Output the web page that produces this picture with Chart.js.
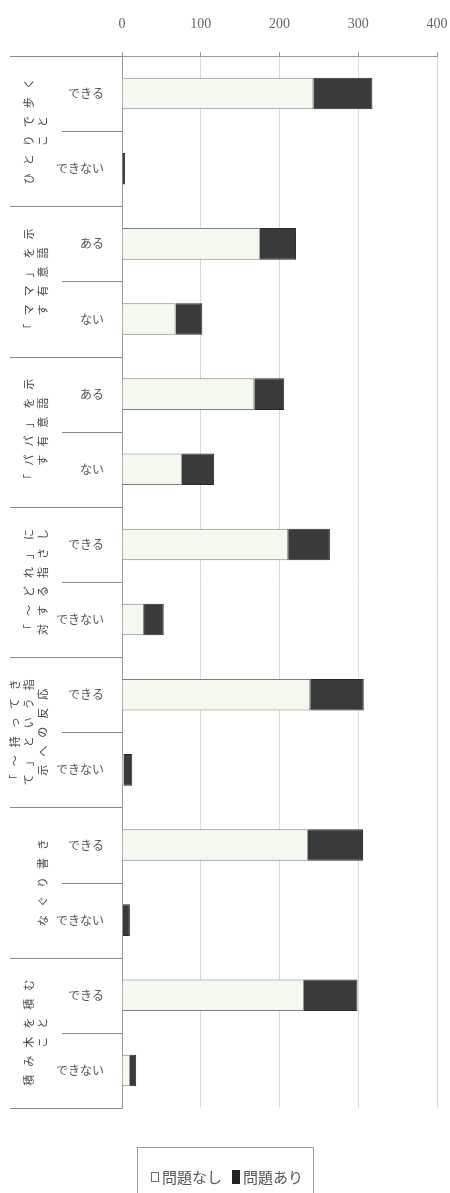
<!doctype html>
<html lang="ja">
  <head>
    <meta charset="utf-8">
    <title>発達項目と問題の有無</title>
    <script src="https://cdn.jsdelivr.net/npm/chart.js"></script>
    <style>
      body { margin: 0; background: #fff; }
      canvas { display: block; }
    </style>
  </head>
  <body>
    <canvas id="myChart" width="450" height="1193"></canvas>
    <script>
      // rows, top to bottom
      const categories = ['できる', 'できない', 'ある', 'ない', 'ある', 'ない', 'できる', 'できない',
                          'できる', 'できない', 'できる', 'できない', 'できる', 'できない'];
      // item names, one line per column of the vertical label
      const groups = [
        ['ひとりで歩く', 'こと'],
        ['「ママ」を示', 'す有意語'],
        ['「パパ」を示', 'す有意語'],
        ['「～どれ」に', '対する指さし'],
        ['「～持ってき', 'て」という指', '示への反応'],
        ['なぐり書き'],
        ['積み木を積む', 'こと']
      ];
      const groupRows = [2, 2, 2, 2, 2, 2, 2];
      const seriesNames = ['問題なし', '問題あり'];
      const noProblem = [243, 0, 175, 68, 168, 76, 211, 28, 239, 2, 236, 1, 231, 10];
      const problem = [75, 4, 46, 34, 38, 41, 53, 25, 68, 11, 70, 9, 68, 8];
      const xTicks = [0, 100, 200, 300, 400];

      const jpFont = '"Noto Sans CJK JP", sans-serif';
      const lightFill = '#f3f9ef';
      const darkFill = '#383b39';

      // separators, vertical item names and the boxed legend
      const sideLabels = {
        id: 'sideLabels',
        afterDraw(chart) {
          const ctx = chart.ctx;
          const y = chart.scales.y;
          const area = chart.chartArea;
          const rowH = y.getPixelForValue(1) - y.getPixelForValue(0);
          const edge = i => y.getPixelForValue(i) - rowH / 2;

          ctx.save();
          ctx.strokeStyle = '#8a8a8a';
          ctx.lineWidth = 1;
          let row = 0;
          ctx.beginPath();
          ctx.moveTo(10, Math.round(edge(0)) + 0.5);
          ctx.lineTo(area.left, Math.round(edge(0)) + 0.5);
          groupRows.forEach((n, g) => {
            for (let k = 1; k < n; k++) {
              const py = Math.round(edge(row + k)) + 0.5;
              ctx.moveTo(62, py);
              ctx.lineTo(area.left, py);
            }
            row += n;
            const py = Math.round(edge(row)) + 0.5;
            ctx.moveTo(10, py);
            ctx.lineTo(area.left, py);
          });
          ctx.stroke();

          // item names, rotated, reading bottom to top
          ctx.fillStyle = '#444';
          ctx.font = '11px ' + jpFont;
          ctx.textAlign = 'center';
          ctx.textBaseline = 'middle';
          const step = 19;
          row = 0;
          groups.forEach((lines, g) => {
            const cy = (edge(row) + edge(row + groupRows[g])) / 2;
            lines.forEach((line, k) => {
              const cx = 43 - (lines.length - 1 - k) * 14;
              const chars = Array.from(line);
              chars.forEach((ch, i) => {
                const py = cy + ((chars.length - 1) / 2 - i) * step;
                ctx.save();
                ctx.translate(cx, py);
                ctx.rotate(-Math.PI / 2);
                ctx.fillText(ch, 0, 0);
                ctx.restore();
              });
            });
            row += groupRows[g];
          });

          // legend box
          const boxTop = area.bottom + 39;
          const boxW = 176;
          const boxX = 137;
          ctx.strokeStyle = '#9a9a9a';
          ctx.strokeRect(boxX + 0.5, boxTop + 0.5, boxW, 60);
          ctx.font = '15px ' + jpFont;
          ctx.textAlign = 'left';
          const ty = boxTop + 30;
          const w0 = ctx.measureText(seriesNames[0]).width;
          const w1 = ctx.measureText(seriesNames[1]).width;
          const total = 8 + 3 + w0 + 10 + 8 + 3 + w1;
          let lx = boxX + boxW / 2 - total / 2 + 2;
          ctx.fillStyle = '#fff';
          ctx.strokeStyle = '#6a6a6a';
          ctx.fillRect(lx, ty - 5, 8, 10);
          ctx.strokeRect(lx + 0.5, ty - 4.5, 7, 9);
          lx += 11;
          ctx.fillStyle = '#555';
          ctx.fillText(seriesNames[0], lx, ty);
          lx += w0 + 10;
          ctx.fillStyle = '#222';
          ctx.fillRect(lx, ty - 7, 8, 14);
          lx += 11;
          ctx.fillStyle = '#555';
          ctx.fillText(seriesNames[1], lx, ty);
          ctx.restore();
        }
      };

      const ctx = document.getElementById('myChart').getContext('2d');
      new Chart(ctx, {
        type: 'bar',
        data: {
          labels: categories,
          datasets: [{
            label: seriesNames[0],
            data: noProblem,
            backgroundColor: lightFill,
            borderColor: '#7f7f7f',
            borderWidth: 1,
            barPercentage: 0.42,
            categoryPercentage: 1
          }, {
            label: seriesNames[1],
            data: problem,
            backgroundColor: darkFill,
            borderColor: '#2a2a2a',
            borderWidth: 1,
            barPercentage: 0.42,
            categoryPercentage: 1
          }]
        },
        options: {
          indexAxis: 'y',
          responsive: false,
          animation: false,
          layout: { padding: { top: 0, right: 0, bottom: 85, left: 0 } },
          plugins: {
            legend: { display: false },
            tooltip: { enabled: false }
          },
          scales: {
            x: {
              position: 'top',
              stacked: true,
              min: xTicks[0],
              max: xTicks[xTicks.length - 1],
              afterBuildTicks: s => { s.ticks = xTicks.map(v => ({ value: v })); },
              afterFit: s => { s.height = 56; s.paddingRight = 13; },
              ticks: {
                padding: 19,
                color: '#666',
                font: { family: '"Liberation Serif", serif', size: 14 }
              },
              grid: { color: '#dadada', tickLength: 4, tickColor: '#9a9a9a' },
              border: { color: '#9a9a9a' }
            },
            y: {
              stacked: true,
              afterFit: s => { s.width = 122; },
              ticks: {
                padding: 10,
                color: '#555',
                font: { family: jpFont, size: 12 }
              },
              grid: { display: false },
              border: { color: '#9a9a9a' }
            }
          }
        },
        plugins: [sideLabels]
      });
    </script>
  </body>
</html>
